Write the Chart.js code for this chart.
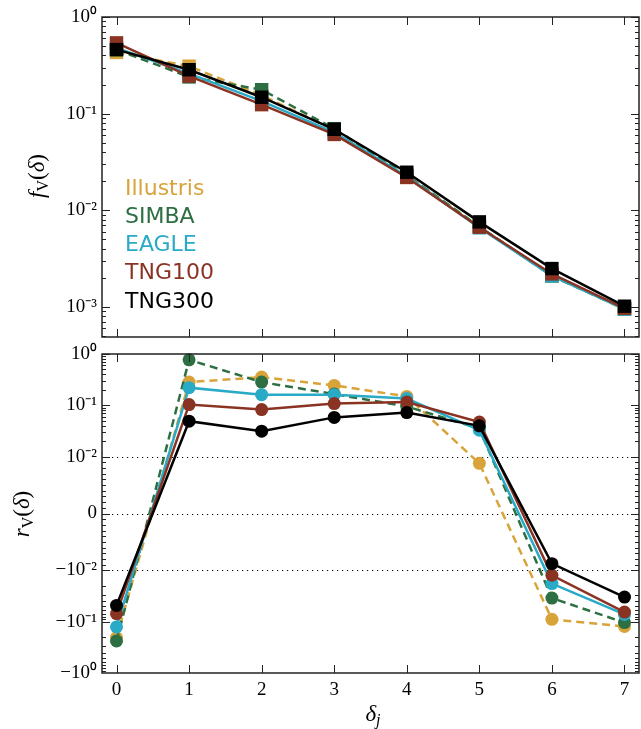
<!DOCTYPE html>
<html>
<head>
<meta charset="utf-8">
<script src="https://cdn.jsdelivr.net/npm/chart.js@4.4.0/dist/chart.umd.min.js"></script>
<style>
  body { margin: 0; background: #fff; }
  #wrap { position: relative; width: 641px; height: 729px; }
  canvas { position: absolute; left: 0; }
  #topChart { top: 0; }
  #bottomChart { top: 320px; }
</style>
</head>
<body>
<div id="wrap">
  <canvas id="topChart" width="641" height="350"></canvas>
  <canvas id="bottomChart" width="641" height="409"></canvas>
</div>
<script>
const deltas = [0, 1, 2, 3, 4, 5, 6, 7];
const simNames = ["Illustris", "SIMBA", "EAGLE", "TNG100", "TNG300"];
const simColors = [
    "#d8a43a", //Illustris
    "#2d6f42", //SIMBA
    "#29aac6", //EAGLE
    "#8b3323", //TNG100
    "#000000" //TNG300
];
const simDashed = [true, true, false, false, false];

// f_V(delta), top panel
const fvIllustris = [0.43, 0.31, 0.155, 0.068, 0.023, 0.0068, 0.0021, 0.00095];
const fvSimba = [0.46, 0.24, 0.177, 0.070, 0.023, 0.0068, 0.0021, 0.00096];
const fvEagle = [0.48, 0.26, 0.135, 0.064, 0.0225, 0.0066, 0.0021, 0.00095];
const fvTng100 = [0.54, 0.245, 0.124, 0.061, 0.0219, 0.0067, 0.0022, 0.00097];
const fvTng300 = [0.46, 0.285, 0.148, 0.069, 0.0248, 0.0076, 0.0025, 0.00102];

// r_V(delta), bottom panel
const rvIllustris = [-0.204, 0.283, 0.354, 0.244, 0.149, 0.0088, -0.0898, -0.124];
const rvSimba = [-0.237, 0.77, 0.283, 0.165, 0.095, 0.035, -0.0346, -0.104];
const rvEagle = [-0.126, 0.22, 0.161, 0.161, 0.135, 0.0327, -0.018, -0.072];
const rvTng100 = [-0.0695, 0.103, 0.0824, 0.108, 0.116, 0.047, -0.0124, -0.0647];
const rvTng300 = [-0.048, 0.0489, 0.0313, 0.058, 0.072, 0.0397, -0.0088, -0.0331];

const fvTicks = [0.001, 0.01, 0.1, 1];
const fvTickLabels = ["10⁻³", "10⁻²", "10⁻¹", "10⁰"];
const rvTicks = [-1, -0.1, -0.01, 0, 0.01, 0.1, 1];
const rvTickLabels = ["−10⁰", "−10⁻¹", "−10⁻²", "0", "10⁻²", "10⁻¹", "10⁰"];
const rvGridLines = [-0.01, 0, 0.01];

const serif = "Liberation Serif";

// symlog scale, linthresh 0.01, linscale 1 (like matplotlib)
const LINTHRESH = 0.01;
const LINSCALE = 1 / (1 - 1 / 10);
function symT(v) {
    const a = Math.abs(v);
    if (a <= LINTHRESH) return v / LINTHRESH * LINSCALE;
    return Math.sign(v) * (LINSCALE + Math.log10(a / LINTHRESH));
}
function symInv(t) {
    const a = Math.abs(t);
    if (a <= LINSCALE) return t / LINSCALE * LINTHRESH;
    return Math.sign(t) * LINTHRESH * Math.pow(10, a - LINSCALE);
}
class SymlogScale extends Chart.LinearScale {
    static id = "symlog";
    configure() {
        super.configure();
        this._tMin = symT(this.min);
        this._tRange = symT(this.max) - this._tMin;
    }
    getPixelForValue(v) {
        if (v === null || isNaN(v)) return NaN;
        return this.getPixelForDecimal((symT(v) - this._tMin) / this._tRange);
    }
    getValueForPixel(p) {
        return symInv(this._tMin + this.getDecimalForPixel(p) * this._tRange);
    }
}
Chart.register(SymlogScale);

// minor tick positions
const fvMinor = [];
for (let d = -4; d <= -1; d++) {
    for (let k = 2; k <= 9; k++) fvMinor.push(k * Math.pow(10, d));
}
const rvMinor = [];
for (let k = 1; k <= 9; k++) rvMinor.push(k * 0.001, -k * 0.001);
for (let d = -2; d <= -1; d++) {
    for (let k = 2; k <= 9; k++) {
        rvMinor.push(k * Math.pow(10, d), -k * Math.pow(10, d));
    }
}

function makeFrame(yMajor, yMinor, gridLines) {
    return {
        id: "frame",
        beforeDatasetsDraw(chart) {
            if (!gridLines) return;
            const { ctx, chartArea: a } = chart;
            const ys = chart.scales.y;
            ctx.save();
            ctx.strokeStyle = "#000";
            ctx.lineWidth = 1;
            ctx.setLineDash([1.2, 3.8]);
            ctx.beginPath();
            gridLines.forEach(v => {
                const py = Math.round(ys.getPixelForValue(v)) + 0.5;
                ctx.moveTo(a.left, py);
                ctx.lineTo(a.right, py);
            });
            ctx.stroke();
            ctx.restore();
        },
        afterDraw(chart) {
            const { ctx, chartArea: a } = chart;
            const xs = chart.scales.x, ys = chart.scales.y;
            ctx.save();
            ctx.strokeStyle = "#222";
            ctx.lineWidth = 1;
            ctx.beginPath();
            deltas.forEach(v => {
                const px = Math.round(xs.getPixelForValue(v)) + 0.5;
                ctx.moveTo(px, a.top);
                ctx.lineTo(px, a.top + 8);
                ctx.moveTo(px, a.bottom);
                ctx.lineTo(px, a.bottom - 8);
            });
            const yTick = (v, len) => {
                const py = Math.round(ys.getPixelForValue(v)) + 0.5;
                if (py < a.top || py > a.bottom) return;
                ctx.moveTo(a.left, py);
                ctx.lineTo(a.left + len, py);
                ctx.moveTo(a.right, py);
                ctx.lineTo(a.right - len, py);
            };
            yMajor.forEach(v => yTick(v, 8));
            yMinor.forEach(v => yTick(v, 4));
            ctx.stroke();
            ctx.lineWidth = 1.5;
            ctx.strokeRect(a.left, a.top, a.right - a.left, a.bottom - a.top);
            ctx.restore();
        }
    };
}

// text with italic letters and a subscript
function drawMath(ctx, parts, x, y, rotated) {
    ctx.save();
    ctx.translate(x, y);
    if (rotated) ctx.rotate(-Math.PI / 2);
    ctx.textBaseline = "alphabetic";
    ctx.fillStyle = "#000";
    let total = 0;
    parts.forEach(p => { ctx.font = p[1]; total += ctx.measureText(p[0]).width; });
    let cx = -total / 2;
    parts.forEach(p => {
        ctx.font = p[1];
        ctx.fillText(p[0], cx, p[2]);
        cx += ctx.measureText(p[0]).width;
    });
    ctx.restore();
}

function yTitle(letter, x, y) {
    return {
        id: "ytitle",
        afterDraw(chart) {
            drawMath(chart.ctx, [
                [letter, `italic 23px ${serif}`, 0],
                ["V", `16px ${serif}`, 4],
                ["(", `23px ${serif}`, 0],
                ["δ", `italic 23px ${serif}`, 0],
                [")", `23px ${serif}`, 0]
            ], x, y, true);
        }
    };
}

const legendText = {
    id: "legendText",
    afterDraw(chart) {
        const ctx = chart.ctx;
        ctx.save();
        ctx.font = "22px 'DejaVu Sans'";
        ctx.textBaseline = "alphabetic";
        simNames.forEach((name, i) => {
            ctx.fillStyle = simColors[i];
            ctx.fillText(name, 125, 194.5 + i * 28.3);
        });
        ctx.restore();
    }
};

const xTitle = {
    id: "xtitle",
    afterDraw(chart) {
        drawMath(chart.ctx, [
            ["δ", `italic 23px ${serif}`, 0],
            ["j", `italic 16px ${serif}`, 4]
        ], 373, 401, false);
    }
};

function buildSets(values, isTop) {
    return simNames.map((name, i) => ({
        label: name,
        data: deltas.map((d, k) => ({ x: d, y: values[i][k] })),
        borderColor: simColors[i],
        backgroundColor: simColors[i],
        pointBackgroundColor: simColors[i],
        borderWidth: 2.5,
        borderDash: simDashed[i] ? [8, 5] : [],
        pointStyle: isTop ? "rect" : "circle",
        pointRadius: isTop ? 9.5 : 6.5,
        pointBorderWidth: 0,
        tension: 0,
        clip: false,
        order: simNames.length - i
    }));
}

function xScale(showLabels) {
    return {
        type: "linear",
        min: -0.2,
        max: 7.2,
        display: showLabels,
        grid: { display: false, drawTicks: false },
        border: { display: false },
        afterBuildTicks: s => { s.ticks = deltas.map(v => ({ value: v })); },
        afterFit: s => {
            s.height = showLabels ? 56 : 0;
            s.paddingLeft = 0;
            s.paddingRight = 0;
        },
        ticks: {
            autoSkip: false,
            maxRotation: 0,
            padding: 6,
            color: "#000",
            font: { family: serif, size: 19 },
            callback: (v, i) => String(deltas[i])
        }
    };
}

function yScale(type, min, max, ticks, labels) {
    return {
        type: type,
        min: min,
        max: max,
        grid: { display: false, drawTicks: false },
        border: { display: false },
        afterBuildTicks: s => { s.ticks = ticks.map(v => ({ value: v })); },
        afterFit: s => { s.width = 102; s.paddingTop = 0; s.paddingBottom = 0; },
        ticks: {
            autoSkip: false,
            padding: 5,
            color: "#000",
            font: { family: serif, size: 19 },
            callback: (v, i) => labels[i]
        }
    };
}

const baseOptions = {
    responsive: false,
    animation: false,
    events: [],
    devicePixelRatio: 1
};

new Chart("topChart", {
    type: "line",
    data: {
        datasets: buildSets([fvIllustris, fvSimba, fvEagle, fvTng100, fvTng300], true)
    },
    options: {
        ...baseOptions,
        layout: { autoPadding: false, padding: { top: 17, bottom: 13, left: 0, right: 2 } },
        plugins: { legend: { display: false }, tooltip: { enabled: false } },
        scales: {
            x: xScale(false),
            y: yScale("logarithmic", 0.00049, 1, fvTicks, fvTickLabels)
        }
    },
    plugins: [makeFrame(fvTicks, fvMinor, null), yTitle("f", 44, 176), legendText]
});

new Chart("bottomChart", {
    type: "line",
    data: {
        datasets: buildSets([rvIllustris, rvSimba, rvEagle, rvTng100, rvTng300], false)
    },
    options: {
        ...baseOptions,
        layout: { autoPadding: false, padding: { top: 34, bottom: 0, left: 0, right: 2 } },
        plugins: { legend: { display: false }, tooltip: { enabled: false } },
        scales: {
            x: xScale(true),
            y: yScale("symlog", -1, 1, rvTicks, rvTickLabels)
        }
    },
    plugins: [makeFrame(rvTicks, rvMinor, rvGridLines), yTitle("r", 29, 194), xTitle]
});
</script>
</body>
</html>
